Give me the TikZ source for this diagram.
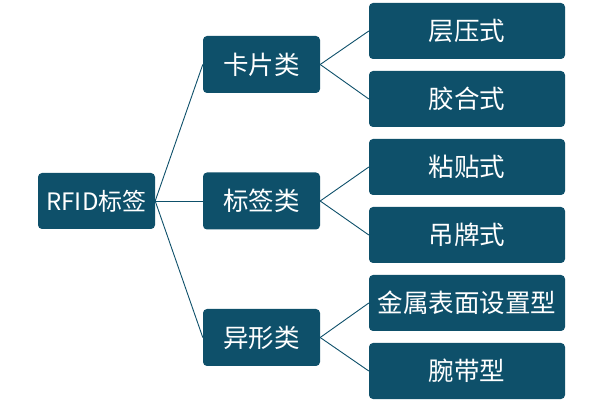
\documentclass[tikz,border=0pt]{standalone}
\usepackage{fontspec}
\newfontfamily\cjk{Noto Sans CJK SC}
\definecolor{boxteal}{RGB}{14,80,106}

\begin{document}
\begin{tikzpicture}[x=1pt, y=-1pt,
    box/.style={fill=boxteal, rounded corners=4pt, text=white, inner sep=0pt,
                font=\cjk\fontsize{25.5}{25.5}\selectfont, anchor=center},
    rootbox/.style={box, minimum width=117pt, minimum height=56pt,
                    font=\cjk\fontsize{24}{24}\selectfont},
    midbox/.style={box, minimum width=117pt, minimum height=57pt},
    leafbox/.style={box, minimum width=196pt, minimum height=56pt},
    link/.style={draw=boxteal, line width=0.9pt}]
\useasboundingbox (0,0) rectangle (600,403);
\node[rootbox] (rfid) at (96.5,201) {RFID标签};
\node[midbox] (card)  at (261.5,64.5)  {卡片类};
\node[midbox] (label) at (261.5,201)   {标签类};
\node[midbox] (odd)   at (261.5,337.5) {异形类};
\node[leafbox] (lam)   at (467,31)  {层压式};
\node[leafbox] (glue)  at (467,99)  {胶合式};
\node[leafbox] (stick) at (467,167) {粘贴式};
\node[leafbox] (tag)   at (467,235) {吊牌式};
\node[leafbox] (metal) at (467,303) {金属表面设置型};
\node[leafbox] (wrist) at (467,371) {腕带型};
\foreach \m in {card,label,odd}
    \draw[link] (rfid.east) -- (\m.west);
\foreach \m/\l in {card/lam,card/glue,label/stick,label/tag,odd/metal,odd/wrist}
    \draw[link] (\m.east) -- (\l.west);
\end{tikzpicture}
\end{document}
